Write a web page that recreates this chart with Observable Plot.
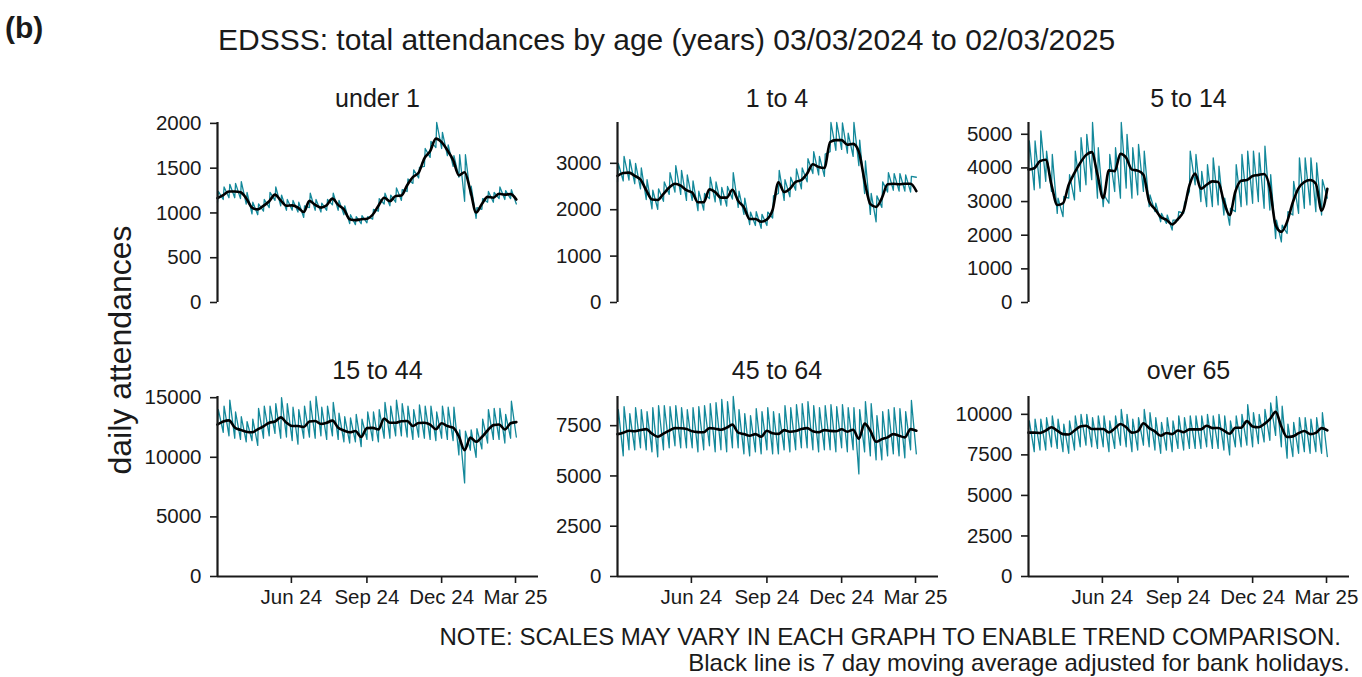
<!DOCTYPE html>
<html>
<head>
<meta charset="utf-8">
<script src="https://cdn.jsdelivr.net/npm/d3@7"></script>
<script src="https://cdn.jsdelivr.net/npm/@observablehq/plot@0.6"></script>
<style>
  html, body { margin: 0; padding: 0; background: #ffffff; }
  #root { position: relative; width: 1362px; height: 677px; overflow: hidden; background: #fff; }
  #root svg { position: absolute; overflow: visible; }
</style>
</head>
<body>
<div id="root"></div>
<script>
// ---------------- DATA ----------------
const panelNames = ["under 1", "1 to 4", "5 to 14", "15 to 44", "45 to 64", "over 65"];
const firstDay = "2024-03-03";   // first Sunday of the series
const lastAxisDay = "2025-03-29";
const xTickDates = ["2024-06-01", "2024-09-01", "2024-12-01", "2025-03-01"];
const xTickLabels = ["Jun 24", "Sep 24", "Dec 24", "Mar 25"];

// weekly 7-day moving average (Sundays, 53 weeks)
const under1MA = [1166,1200,1240,1240,1230,1165,1060,1040,1080,1130,1205,1140,1080,1085,1060,1010,1135,1090,1060,1087,1160,1090,1040,930,920,930,935,980,1080,1170,1130,1190,1195,1310,1400,1450,1610,1690,1830,1790,1700,1590,1420,1455,1250,1005,1100,1180,1170,1215,1205,1210,1150];
// weekly peaks (Mondays, 52 weeks) and troughs (Sundays, 53 weeks) of the daily series
const under1High = [1240,1290,1320,1330,1350,1230,1120,1100,1150,1230,1290,1200,1150,1140,1120,1080,1220,1150,1110,1150,1220,1140,1080,980,960,970,960,1040,1160,1220,1200,1280,1260,1380,1480,1510,1720,1800,2010,1900,1760,1640,1650,1650,1300,1060,1160,1240,1230,1290,1250,1260];
const under1Low = [1120,1150,1170,1170,1160,1100,990,980,1020,1060,1140,1080,1030,1030,1010,950,1060,1030,1010,1030,1090,1030,980,880,870,880,890,930,1020,1100,1080,1120,1140,1240,1330,1390,1520,1620,1730,1720,1640,1520,1400,1130,1200,940,1040,1120,1120,1160,1150,1160,1100];

const age1to4MA = [2730,2790,2800,2730,2650,2420,2220,2210,2340,2480,2560,2520,2420,2370,2160,2160,2440,2380,2260,2260,2430,2190,2050,1800,1800,1740,1790,2000,2590,2380,2450,2600,2640,2780,2980,2920,2900,3460,3500,3500,3400,3420,3250,2620,2120,2060,2250,2550,2560,2550,2560,2560,2400];
const age1to4High = [3000,3150,3080,3000,2900,2650,2420,2450,2600,2800,2950,2850,2750,2620,2400,2350,2700,2600,2480,2500,2800,2400,2250,1950,1960,1900,1950,2300,2850,2650,2700,2880,2900,3100,3250,3150,3200,3880,3880,3870,3650,3880,3500,3050,2350,2300,2600,2800,2780,2780,2750,2720];
const age1to4Low = [2600,2620,2640,2560,2450,2220,2020,2010,2180,2330,2380,2330,2200,2200,1980,1990,2240,2170,2100,2080,2230,2050,1900,1680,1660,1600,1660,1820,2350,2200,2280,2420,2450,2600,2780,2750,2720,3250,3280,3300,3220,3150,2950,2350,1900,1740,2050,2380,2420,2400,2400,2380,2700];

const age5to14MA = [3950,3990,4200,4245,3500,2900,2950,3500,3850,4150,4380,4470,3800,3100,3926,3900,4420,4300,3950,3920,3800,3000,2780,2540,2460,2320,2480,2730,3480,3830,3380,3500,3600,3580,3000,2600,3300,3620,3640,3760,3790,3820,3400,2300,2100,2400,2980,3400,3580,3640,3530,2730,3380];
const age5to14High = [4800,4800,5100,4500,4400,3100,3150,3800,4500,4900,5000,5350,4600,3200,4400,4600,5350,5000,4600,4700,4500,3200,2950,2650,2600,2450,2700,2950,4500,4400,3900,4100,4300,4050,3100,2800,4100,4400,4500,4500,4450,4650,3800,2450,2300,2700,3600,4300,4300,4300,4150,3650];
const age5to14Low = [3950,3350,3400,3600,3300,2650,2550,3100,3050,3300,3500,3650,3100,2850,2950,3300,3100,3400,3100,3200,3300,2850,2700,2400,2350,2150,2450,2650,3300,3500,3000,2850,2850,2900,2600,2300,2700,2850,2900,2950,3000,2800,2750,1900,1800,2050,2600,2650,2800,2900,2700,2600,3100];

const age15to44MA = [12750,13000,13100,12500,12300,12150,12100,12350,12600,12900,13000,13350,12900,12620,12620,12540,13000,13050,12800,12900,13080,12480,12250,12100,12200,11700,12450,12470,12340,13250,12900,12900,13030,13040,12620,12880,12900,12750,12350,12850,12620,12480,11750,10600,11650,11300,11700,12250,12700,12750,12330,12850,12950];
const age15to44High = [14000,14300,14800,13800,13400,13000,13200,14100,14300,14300,14500,15000,14500,14200,14000,14300,14700,15100,14200,14300,14600,13700,13400,13300,13600,13200,13800,13800,14000,14600,14300,14800,14500,14300,14000,14400,14300,14300,13800,14300,14200,14200,12300,12200,12300,12400,13200,14000,14100,14100,13600,14700];
const age15to44Low = [12700,12100,11800,11600,11500,11300,11400,11000,11600,11800,12000,11600,11700,11400,11100,11600,11700,11600,11800,11500,11800,11500,11300,11200,11300,10900,11500,11400,11300,11600,11600,11800,11800,11700,11500,11700,11600,11500,11400,11600,11500,11400,10200,7850,10600,10000,10700,11200,11500,11500,11200,11600,11700];

const age45to64MA = [7080,7150,7250,7220,7280,7330,7100,6950,7100,7250,7380,7370,7330,7220,7180,7170,7380,7350,7300,7400,7550,7150,7080,7000,7080,6950,7250,7120,7090,7280,7200,7230,7330,7380,7220,7170,7280,7240,7220,7320,7200,7300,6850,7600,7250,6700,6830,6920,7080,7000,6920,7330,7250];
const age45to64High = [8300,8450,8100,8400,8300,8200,8400,8500,8500,8450,8500,8400,8300,8400,8450,8500,8600,8650,8800,8700,8950,8300,8100,8000,8350,8200,8400,8200,8100,8500,8400,8550,8600,8700,8500,8400,8500,8550,8450,8550,8400,8400,8300,8700,8600,8000,8200,8300,8400,8350,8200,8750];
const age45to64Low = [7300,6000,6300,6300,6400,6300,6200,5950,6300,6400,6500,6400,6400,6400,6200,6300,6500,6200,6300,6200,6400,6400,6100,6000,6200,6100,6300,6100,6100,6300,6200,6300,6400,6400,6300,6200,6300,6300,6200,6400,6200,6300,5100,6200,6000,5800,5800,6000,6100,6000,5900,6300,6100];

const over65MA = [8870,8870,8850,9000,9200,8990,8780,8760,9000,9250,9300,9100,9100,9100,8880,9130,9400,9200,8870,8950,9450,9150,8950,8680,8850,8780,9000,8900,9070,9070,9070,9300,9150,9160,9000,8800,9170,9170,9580,9250,9200,9400,9700,10150,9250,8600,8640,8840,8970,8780,8860,9150,9010];
const over65High = [9600,9700,9700,9800,9900,9700,9400,9600,9900,10000,10000,9800,9900,9900,9600,9900,10300,10000,9700,9800,10300,10100,9800,9500,9800,9600,9900,9800,9900,9900,9900,10000,9900,10000,9900,9600,9900,10000,10600,10100,10000,10300,10700,11100,10500,9400,9500,9800,9800,9700,9800,10100];
const over65Low = [9100,7700,7800,7800,8000,7900,7700,7600,7800,8000,8100,8000,7900,8000,7700,7900,8100,8000,7700,7800,8100,8000,7800,7600,7800,7700,7900,7800,7900,7900,7900,8000,7900,7900,7800,7500,8000,8000,8100,8000,8200,8300,8400,8700,8000,7300,7400,7600,7700,7600,7700,7600,7400];

const under1Ticks = [0, 500, 1000, 1500, 2000];
const age1to4Ticks = [0, 1000, 2000, 3000];
const age5to14Ticks = [0, 1000, 2000, 3000, 4000, 5000];
const age15to44Ticks = [0, 5000, 10000, 15000];
const age45to64Ticks = [0, 2500, 5000, 7500];
const over65Ticks = [0, 2500, 5000, 7500, 10000];

const titleText = "EDSSS: total attendances by age (years) 03/03/2024 to 02/03/2025";
const panelTag = "(b)";
const yAxisTitle = "daily attendances";
const noteLine1 = "NOTE: SCALES MAY VARY IN EACH GRAPH TO ENABLE TREND COMPARISON.";
const noteLine2 = "Black line is 7 day moving average adjusted for bank holidays.";

// ---------------- BUILD ----------------
const FONT = "'Liberation Sans', Arial, Helvetica, sans-serif";
const TEAL = "#13889a";
const INK = "#1a1a1a";
const DAY = 86400000;
const t0 = new Date(firstDay + "T00:00:00Z");
const tEnd = new Date(lastAxisDay + "T00:00:00Z");
const xTicks = xTickDates.map(d => new Date(d + "T00:00:00Z"));

function dailySeries(high, low) {
  const out = [];
  low.forEach((v, w) => {
    out.push({date: new Date(+t0 + 7 * w * DAY), value: v});
    if (w < high.length) out.push({date: new Date(+t0 + (7 * w + 1) * DAY), value: high[w]});
  });
  return out;
}
function weeklySeries(ma) {
  return ma.map((v, w) => ({date: new Date(+t0 + 7 * w * DAY), value: v}));
}

const panels = [
  {name: panelNames[0], ma: under1MA, high: under1High, low: under1Low, ticks: under1Ticks},
  {name: panelNames[1], ma: age1to4MA, high: age1to4High, low: age1to4Low, ticks: age1to4Ticks},
  {name: panelNames[2], ma: age5to14MA, high: age5to14High, low: age5to14Low, ticks: age5to14Ticks},
  {name: panelNames[3], ma: age15to44MA, high: age15to44High, low: age15to44Low, ticks: age15to44Ticks},
  {name: panelNames[4], ma: age45to64MA, high: age45to64High, low: age45to64Low, ticks: age45to64Ticks},
  {name: panelNames[5], ma: over65MA, high: over65High, low: over65Low, ticks: over65Ticks}
];

const root = document.getElementById("root");
const axisLeft = [217, 616.5, 1028];   // x of each column's y-axis line
const zeroY = [302, 575.5];            // y of zero in each row
const PW = 321, PH = 180, ML = 80, MR = 12, MT = 12, MB = 50;

panels.forEach((p, i) => {
  const row = Math.floor(i / 3), col = i % 3;
  const daily = dailySeries(p.high, p.low);
  const weekly = weeklySeries(p.ma);
  const ymax = d3.max(daily, d => d.value);
  const marks = [
    Plot.line(daily, {x: "date", y: "value", stroke: TEAL, strokeWidth: 1.3}),
    Plot.line(weekly, {x: "date", y: "value", stroke: "#000", strokeWidth: 2.6, curve: "monotone-x"}),
    Plot.axisY({ticks: p.ticks, tickSize: 7, tickPadding: 9, label: null, tickFormat: d => String(d), strokeWidth: 1.6, fontSize: 20.5}),
    Plot.ruleX([t0], {stroke: INK, strokeWidth: 2.2})
  ];
  if (row === 1) {
    marks.push(Plot.axisX({ticks: xTicks, tickSize: 7, tickPadding: 6, strokeWidth: 1.6, label: null, fontSize: 20.5,
      tickFormat: (d) => xTickLabels[xTicks.findIndex(t => +t === +d)]}));
    marks.push(Plot.ruleY([0], {stroke: INK, strokeWidth: 2.2}));
  }
  const chart = Plot.plot({
    width: ML + PW + MR, height: MT + PH + MB,
    marginLeft: ML, marginRight: MR, marginTop: MT, marginBottom: MB,
    style: {fontFamily: FONT, fontSize: "20.5px", color: INK, background: "transparent", overflow: "visible"},
    x: {type: "utc", domain: [t0, tEnd], range: [ML, ML + PW], axis: null},
    y: {domain: [0, ymax], range: [MT + PH, MT], axis: null},
    marks
  });
  chart.style.left = (axisLeft[col] - ML) + "px";
  chart.style.top = (zeroY[row] - MT - PH) + "px";
  root.appendChild(chart);
});

// ---------------- TEXT OVERLAY ----------------
const svg = d3.select(root).append("svg")
  .attr("width", 1362).attr("height", 677)
  .style("left", "0px").style("top", "0px")
  .style("font-family", FONT).style("fill", INK);

svg.append("text").attr("x", 5).attr("y", 38).attr("font-size", 30).attr("font-weight", "bold").text(panelTag);
svg.append("text").attr("x", 218).attr("y", 50).attr("font-size", 30).text(titleText);
svg.append("text").attr("transform", "translate(131,350) rotate(-90)").attr("text-anchor", "middle")
  .attr("font-size", 32).text(yAxisTitle);
panels.forEach((p, i) => {
  const row = Math.floor(i / 3), col = i % 3;
  svg.append("text").attr("x", axisLeft[col] + PW / 2).attr("y", row === 0 ? 107 : 379)
    .attr("text-anchor", "middle").attr("font-size", 25).text(p.name);
});
svg.append("text").attr("x", 1341).attr("y", 645).attr("text-anchor", "end").attr("font-size", 24).text(noteLine1);
svg.append("text").attr("x", 1350).attr("y", 671).attr("text-anchor", "end").attr("font-size", 24).text(noteLine2);
</script>
</body>
</html>
